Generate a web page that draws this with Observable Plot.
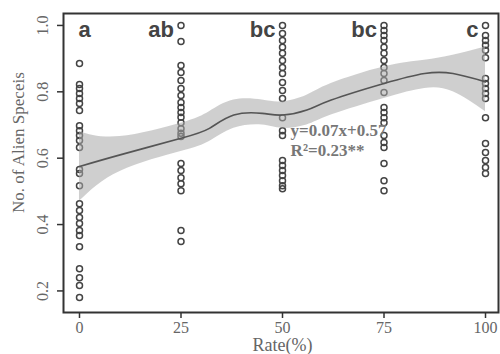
<!DOCTYPE html>
<html>
<head>
<meta charset="utf-8">
<script src="https://cdn.jsdelivr.net/npm/d3@7"></script>
<script src="https://cdn.jsdelivr.net/npm/@observablehq/plot@0.6"></script>
<style>
  html, body { margin: 0; padding: 0; background: #fff; }
  svg { display: block; }
</style>
</head>
<body>
<div id="chart"></div>
<script>
// ---- data ----
const rates = [0, 25, 50, 75, 100];
const groupLetters = ["a", "ab", "bc", "bc", "c"];

const values0 = [0.885, 0.822, 0.81, 0.795, 0.78, 0.765, 0.744, 0.698, 0.683, 0.668, 0.653, 0.632,
  0.566, 0.554, 0.517, 0.463, 0.442, 0.421, 0.403, 0.382, 0.367, 0.333, 0.267, 0.24, 0.216, 0.18];
const values25 = [1.0, 0.952, 0.879, 0.858, 0.834, 0.81, 0.789, 0.768, 0.753, 0.738, 0.723, 0.707,
  0.689, 0.675, 0.665, 0.584, 0.563, 0.541, 0.523, 0.502, 0.382, 0.349];
const values50 = [1.0, 0.976, 0.955, 0.934, 0.916, 0.894, 0.873, 0.855, 0.828, 0.804, 0.78,
  0.722, 0.683, 0.668, 0.593, 0.578, 0.563, 0.548, 0.532, 0.517, 0.508];
const values75 = [1.0, 0.985, 0.97, 0.955, 0.934, 0.916, 0.894, 0.873, 0.855, 0.834, 0.798,
  0.753, 0.738, 0.722, 0.707, 0.668, 0.647, 0.632, 0.584, 0.532, 0.502];
const values100 = [1.0, 0.97, 0.955, 0.94, 0.925, 0.903, 0.84, 0.825, 0.81, 0.795, 0.78,
  0.722, 0.644, 0.617, 0.593, 0.572, 0.554];

// smooth fit and confidence band
const fitX  = [0, 10, 25, 32, 38, 45, 50, 56, 62, 75, 85, 92, 100];
const fitY  = [0.575, 0.61, 0.66, 0.69, 0.73, 0.735, 0.73, 0.745, 0.775, 0.825, 0.855, 0.855, 0.83];
const bandLo = [0.47, 0.56, 0.62, 0.65, 0.69, 0.70, 0.69, 0.70, 0.73, 0.78, 0.81, 0.80, 0.74];
const bandHi = [0.68, 0.665, 0.705, 0.74, 0.775, 0.775, 0.77, 0.79, 0.825, 0.875, 0.895, 0.91, 0.935];

const xTicks = [0, 25, 50, 75, 100];
const yTicks = [0.2, 0.4, 0.6, 0.8, 1.0];
const equationLines = ["y=0.07x+0.57", "R²=0.23**"];
const xLabel = "Rate(%)";
const yLabel = "No. of Alien Speceis";

// ---- build tables ----
const columns = [values0, values25, values50, values75, values100];
const points = columns.flatMap((vals, i) => vals.map(v => ({rate: rates[i], value: v})));
const fit = fitX.map((x, i) => ({x, y: fitY[i], lo: bandLo[i], hi: bandHi[i]}));
const letters = rates.map((r, i) => ({rate: r, label: groupLetters[i]}));

const serif = "'Liberation Serif', 'DejaVu Serif', serif";
const sans = "'Liberation Sans', Arial, sans-serif";
const textGray = "#666";

const chart = Plot.plot({
  width: 500,
  height: 354,
  marginLeft: 63,
  marginRight: 2,
  marginTop: 13,
  marginBottom: 42,
  style: {background: "#fff"},
  x: {domain: [-3.94, 103.2]},
  y: {domain: [0.135, 1.036]},
  marks: [
    // points
    Plot.dot(points, {x: "rate", y: "value", r: 3, stroke: "#444", strokeWidth: 1.5, fill: "none"}),
    // confidence band
    Plot.areaY(fit, {x: "x", y1: "lo", y2: "hi", fill: "#a8a8a8", fillOpacity: 0.55, curve: "natural"}),
    // fitted line
    Plot.line(fit, {x: "x", y: "y", stroke: "#555", strokeWidth: 1.6, curve: "natural"}),
    // group letters
    Plot.text(letters.slice(0, 1), {x: "rate", y: 0.964, text: "label", textAnchor: "start", dx: -1,
      lineAnchor: "bottom", fontSize: 22, fontWeight: "bold", fontFamily: sans, fill: "#444"}),
    Plot.text(letters.slice(1), {x: "rate", y: 0.964, text: "label", textAnchor: "end", dx: -7,
      lineAnchor: "bottom", fontSize: 22, fontWeight: "bold", fontFamily: sans, fill: "#444"}),
    // equation
    Plot.text([equationLines[0]], {x: 52, y: 0.668, text: d => d, textAnchor: "start", lineAnchor: "bottom",
      fontSize: 17, fontWeight: "bold", fontFamily: serif, fill: "#777"}),
    Plot.text([equationLines[1]], {x: 52, y: 0.608, text: d => d, textAnchor: "start", lineAnchor: "bottom",
      fontSize: 17, fontWeight: "bold", fontFamily: serif, fill: "#777"}),
    // axes
    Plot.axisX({ticks: xTicks, tickSize: 6, tickPadding: 3, fontSize: 16, fontFamily: serif,
      color: textGray, stroke: "#333", strokeWidth: 1.5, label: null, tickFormat: d => String(d)}),
    Plot.axisY({ticks: yTicks, tickSize: 6, stroke: "#333", strokeWidth: 1.5, label: null, tickFormat: () => ""}),
    Plot.text(yTicks, {y: d => d, text: d => d.toFixed(1), frameAnchor: "left", dx: -21, rotate: -90,
      textAnchor: "middle", lineAnchor: "middle", fontSize: 16, fontFamily: serif, fill: textGray}),
    Plot.text([yLabel], {y: 0.647, text: d => d, frameAnchor: "left", dx: -45, rotate: -90,
      textAnchor: "middle", lineAnchor: "middle", fontSize: 17, fontFamily: serif, fill: textGray}),
    Plot.text([xLabel], {x: 50, text: d => d, frameAnchor: "bottom", dy: 33, lineAnchor: "middle",
      textAnchor: "middle", fontSize: 18, fontFamily: serif, fill: textGray}),
    Plot.frame({stroke: "#333", strokeWidth: 2})
  ]
});
document.getElementById("chart").append(chart);
</script>
</body>
</html>
